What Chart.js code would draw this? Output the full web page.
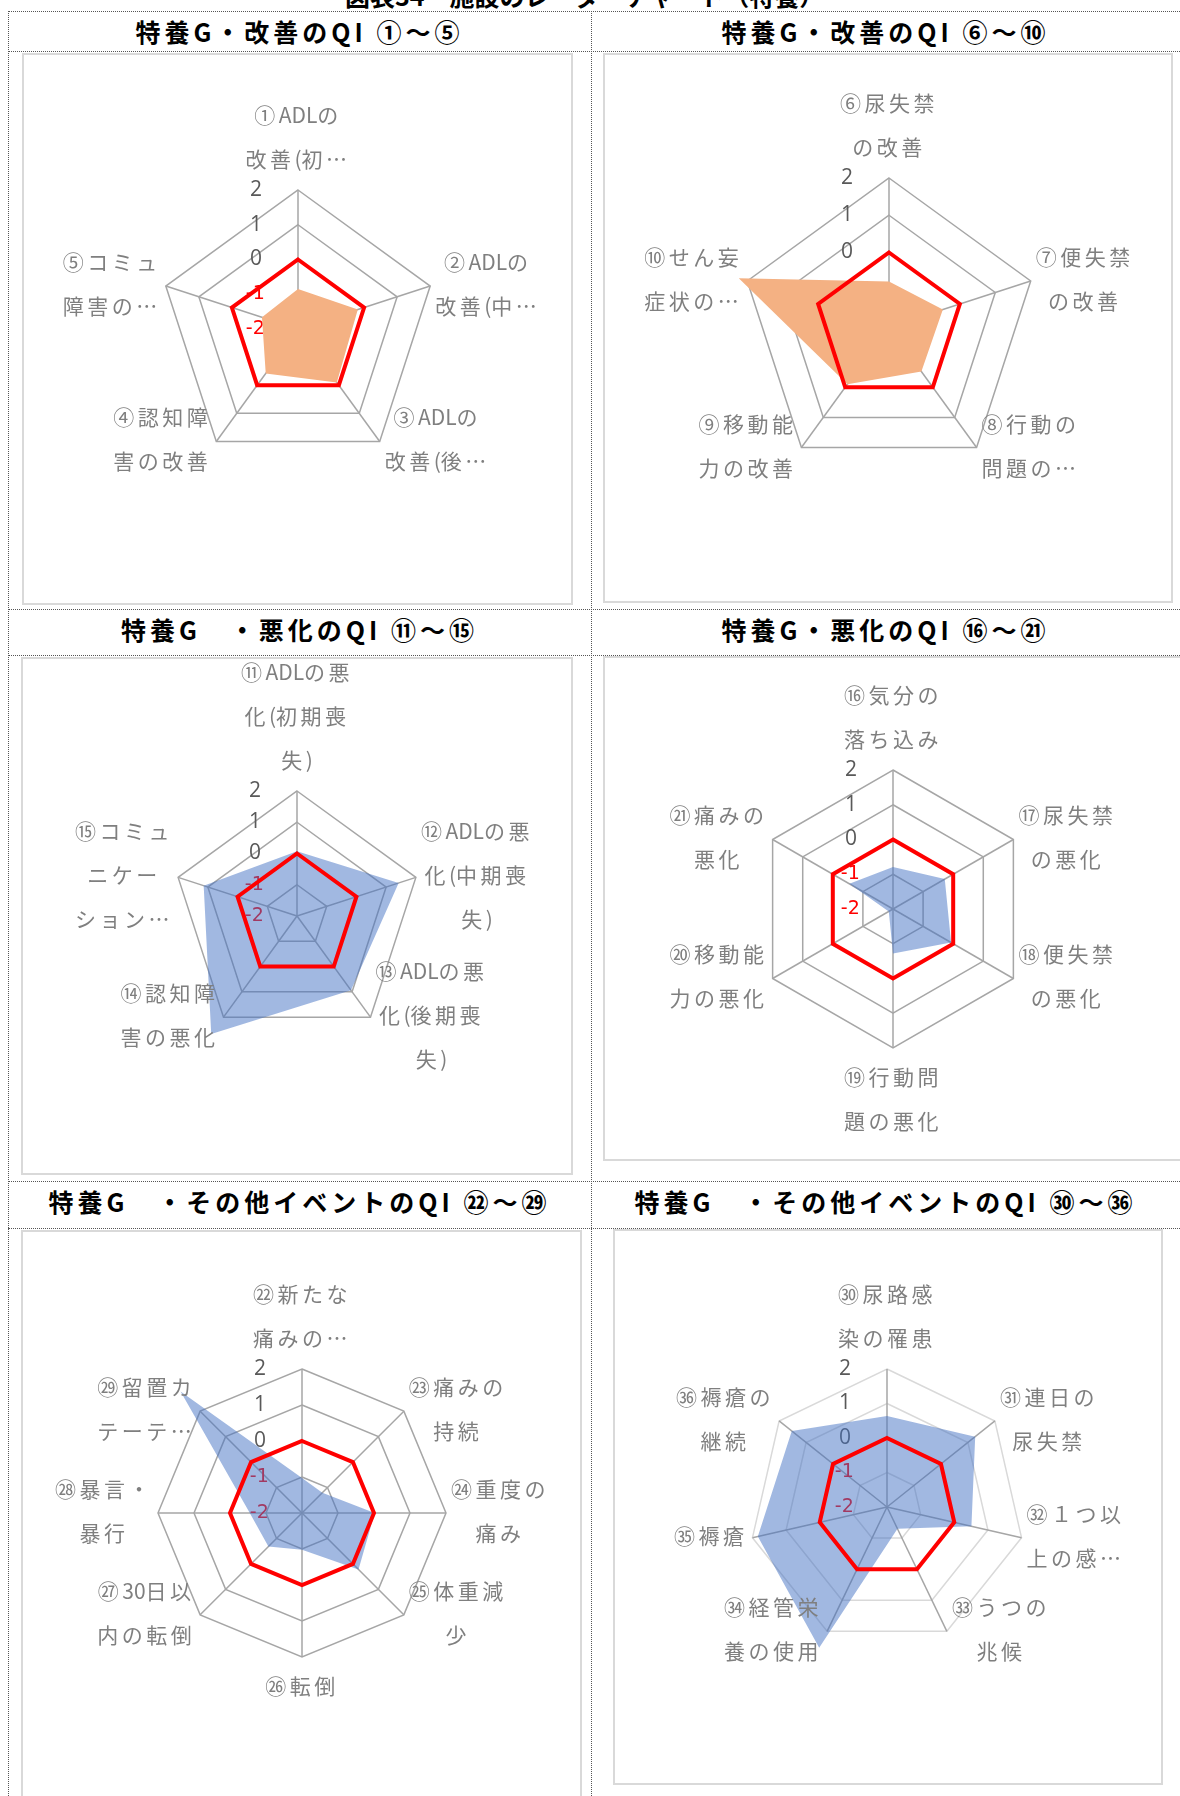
<!DOCTYPE html>
<html lang="ja">
<head>
<meta charset="utf-8">
<title>施設のレーダーチャート</title>
<script src="https://cdn.jsdelivr.net/npm/chart.js@4.4.1/dist/chart.umd.min.js"></script>
<style>
  html, body { margin: 0; padding: 0; background: #fff; }
  body {
    width: 1180px; height: 1796px; position: relative; overflow: hidden;
    font-family: "Noto Sans CJK JP", sans-serif;
  }
  .doc-title {
    position: absolute; top: -17px; left: 345px; width: 470px; text-align: center;
    font-size: 25px; line-height: 1; font-weight: 700; color: #000; white-space: nowrap;
  }
  .hline { position: absolute; left: 8px; width: 1172px; height: 0; border-top: 1px dotted #555; }
  .vline { position: absolute; top: 11px; height: 1785px; width: 0; border-left: 1px dotted #555; }
  .cell-title {
    position: absolute; text-align: center; white-space: nowrap;
    font-size: 25px; line-height: 1; font-weight: 700; letter-spacing: 4px; color: #000;
  }
  .panel { position: absolute; box-sizing: border-box; border: 2px solid #d9d9d9; background: #fff; }
  canvas.radar { position: absolute; }
</style>
</head>
<body>
<div class="doc-title">図表34　施設のレーダーチャート（特養）</div>
<div id="sheet"></div>

<script>
(function () {
  // ---- data -------------------------------------------------------------
  const tickValues = [-2, -1, 0, 1, 2];

  const catsImproveA = [["①ADLの", "改善(初…"], ["②ADLの", "改善(中…"], ["③ADLの", "改善(後…"], ["④認知障", "害の改善"], ["⑤コミュ", "障害の…"]];
  const facilityImproveA = [-0.85, -0.19, -0.10, -0.42, -0.91];
  const averageImproveA = [0, 0, 0, 0, 0];

  const catsImproveB = [["⑥尿失禁", "の改善"], ["⑦便失禁", "の改善"], ["⑧行動の", "問題の…"], ["⑨移動能", "力の改善"], ["⑩せん妄", "症状の…"]];
  const facilityImproveB = [-0.78, -0.48, -0.52, -0.10, 2.24];
  const averageImproveB = [0, 0, 0, 0, 0];

  const catsWorseA = [["⑪ADLの悪", "化(初期喪", "失)"], ["⑫ADLの悪", "化(中期喪", "失)"], ["⑬ADLの悪", "化(後期喪", "失)"], ["⑭認知障", "害の悪化"], ["⑮コミュ", "ニケー", "ション…"]];
  const facilityWorseA = [0.07, 1.42, 0.94, 2.67, 1.14];
  const averageWorseA = [0, 0, 0, 0, 0];

  const catsWorseB = [["⑯気分の", "落ち込み"], ["⑰尿失禁", "の悪化"], ["⑱便失禁", "の悪化"], ["⑲行動問", "題の悪化"], ["⑳移動能", "力の悪化"], ["㉑痛みの", "悪化"]];
  const facilityWorseB = [-0.79, -0.28, -0.07, -0.72, -1.86, -0.55];
  const averageWorseB = [0, 0, 0, 0, 0, 0];

  const catsEventA = [["㉒新たな", "痛みの…"], ["㉓痛みの", "持続"], ["㉔重度の", "痛み"], ["㉕体重減", "少"], ["㉖転倒"], ["㉗30日以", "内の転倒"], ["㉘暴言・", "暴行"], ["㉙留置カ", "テーテ…"]];
  const facilityEventA = [-1.03, -1.2, 0.02, 0.22, -0.98, -0.68, -0.55, 2.77];
  const averageEventA = [0, 0, 0, 0, 0, 0, 0, 0];

  const catsEventB = [["㉚尿路感", "染の罹患"], ["㉛連日の", "尿失禁"], ["㉜１つ以", "上の感…"], ["㉝うつの", "兆候"], ["㉞経管栄", "養の使用"], ["㉟褥瘡"], ["㊱褥瘡の", "継続"]];
  const facilityEventB = [0.64, 1.27, 0.51, -1.3, 2.53, 1.84, 1.53];
  const averageEventB = [0, 0, 0, 0, 0, 0, 0];

  const titles = [
    "特養G・改善のQI ①～⑤",
    "特養G・改善のQI ⑥～⑩",
    "特養G　・悪化のQI ⑪～⑮",
    "特養G・悪化のQI ⑯～㉑",
    "特養G　・その他イベントのQI ㉒～㉙",
    "特養G　・その他イベントのQI ㉚～㊱",
  ];

  // ---- styles -----------------------------------------------------------
  const ORANGE = "#f4b183";
  const BLUE = "rgba(68, 114, 196, 0.5)";
  const RED = "#ff0000";
  const GRID = "#a6a6a6";
  const GRID_LIGHT = "#d9d9d9";
  const LABEL_COLOR = "#7f7f7f";
  const LABEL_SIZE = 21;
  const LABEL_LINE = 44;
  const WIDE_SPACING = "3.5px";
  const TICK_SIZE = 21;
  const TICK_PAD = TICK_SIZE / 2;

  // panel boxes and plot centres (page pixels)
  const cells = [
    { cats: catsImproveA, fac: facilityImproveA, avg: averageImproveA, fill: ORANGE, ring: GRID, panel: [22, 53, 551, 552], c: [298, 329], r: 139, titleY: 19, col: 0 },
    { cats: catsImproveB, fac: facilityImproveB, avg: averageImproveB, fill: ORANGE, ring: GRID, panel: [603, 53, 570, 550], c: [889, 327], r: 149, titleY: 19, col: 1 },
    { cats: catsWorseA, fac: facilityWorseA, avg: averageWorseA, fill: BLUE, ring: GRID, panel: [21, 657, 552, 518], c: [297, 916], r: 125, titleY: 617, col: 0 },
    { cats: catsWorseB, fac: facilityWorseB, avg: averageWorseB, fill: BLUE, ring: GRID, panel: [603, 656, 579, 505], c: [893, 909], r: 139, titleY: 617, col: 1 },
    { cats: catsEventA, fac: facilityEventA, avg: averageEventA, fill: BLUE, ring: GRID, panel: [21, 1230, 561, 580], c: [302, 1513], r: 144, titleY: 1189, col: 0 },
    { cats: catsEventB, fac: facilityEventB, avg: averageEventB, fill: BLUE, ring: GRID_LIGHT, panel: [613, 1229, 550, 556], c: [887, 1507], r: 138, titleY: 1189, col: 1 },
  ];

  const sheet = document.getElementById("sheet");

  [11, 51, 609, 655, 1181, 1228].forEach(function (y) {
    const d = document.createElement("div");
    d.className = "hline";
    d.style.top = y + "px";
    sheet.appendChild(d);
  });
  [8, 591].forEach(function (x) {
    const d = document.createElement("div");
    d.className = "vline";
    d.style.left = x + "px";
    sheet.appendChild(d);
  });

  // full-width text is spaced out like the Excel labels, ASCII is not
  function textRuns(text) {
    return text.match(/[\x20-\x7e]+|[^\x20-\x7e]+/g) || [];
  }
  function setSpacing(ctx, run) {
    ctx.letterSpacing = /^[\x20-\x7e]/.test(run) ? "0px" : WIDE_SPACING;
  }
  function runWidth(ctx, text) {
    let w = 0;
    textRuns(text).forEach(function (r) {
      setSpacing(ctx, r);
      w += ctx.measureText(r).width;
    });
    return w;
  }
  function drawCentred(ctx, text, cx, y) {
    let x = cx - runWidth(ctx, text) / 2;
    textRuns(text).forEach(function (r) {
      setSpacing(ctx, r);
      ctx.fillText(r, x, y);
      x += ctx.measureText(r).width;
    });
  }

  // Excel-like category labels: centred blocks beside each outer vertex
  const excelLabels = {
    id: "excelLabels",
    afterDraw(chart) {
      const scale = chart.scales.r;
      const ctx = chart.ctx;
      ctx.save();
      ctx.font = LABEL_SIZE + 'px "Noto Sans CJK JP"';
      ctx.fillStyle = LABEL_COLOR;
      ctx.textAlign = "left";
      ctx.textBaseline = "middle";
      chart.data.labels.forEach(function (lines, i) {
        const p = scale.getPointPosition(i, scale.drawingArea);
        const deg = scale.getIndexAngle(i) * 180 / Math.PI;
        const w = Math.max.apply(null, lines.map(function (t) { return runWidth(ctx, t); }));
        const n = lines.length;
        let x, y0;
        if (deg < 1 || deg > 359) {
          x = p.x;
          y0 = p.y - 31 - (n - 1) * LABEL_LINE;
        } else if (Math.abs(deg - 180) < 1) {
          x = p.x;
          y0 = p.y + 29;
        } else if (deg < 180) {
          x = p.x + 5 + w / 2;
          y0 = p.y - 2 - (n - 1) * LABEL_LINE / 2;
        } else {
          x = p.x - 5 - w / 2;
          y0 = p.y - 2 - (n - 1) * LABEL_LINE / 2;
        }
        lines.forEach(function (t, k) {
          drawCentred(ctx, t, x, y0 + k * LABEL_LINE);
        });
      });
      ctx.restore();
    },
  };

  cells.forEach(function (cell, idx) {
    const colLeft = cell.col === 0 ? 8 : 591;
    const colRight = cell.col === 0 ? 591 : 1180;

    const t = document.createElement("div");
    t.className = "cell-title";
    t.textContent = titles[idx];
    t.style.left = colLeft + "px";
    t.style.width = (colRight - colLeft) + "px";
    t.style.top = cell.titleY + "px";
    sheet.appendChild(t);

    const [px, py, pw, ph] = cell.panel;
    const box = document.createElement("div");
    box.className = "panel";
    box.style.left = px + "px";
    box.style.top = py + "px";
    box.style.width = pw + "px";
    box.style.height = ph + "px";
    sheet.appendChild(box);

    const canvas = document.createElement("canvas");
    canvas.className = "radar";
    canvas.width = pw;
    canvas.height = ph;
    canvas.style.left = px + "px";
    canvas.style.top = py + "px";
    sheet.appendChild(canvas);

    const side = 2 * cell.r + 2 * TICK_PAD;
    const padLeft = cell.c[0] - px - cell.r - TICK_PAD;
    const padTop = cell.c[1] - py - cell.r - TICK_PAD;
    const opaque = cell.fill === ORANGE;

    new Chart(canvas, {
      type: "radar",
      data: {
        labels: cell.cats,
        datasets: [
          {
            label: "平均",
            data: cell.avg,
            borderColor: RED,
            borderWidth: 4,
            borderJoinStyle: "miter",
            backgroundColor: "transparent",
            fill: false,
            pointRadius: 0,
            clip: false,
            order: 0,
          },
          {
            label: "施設",
            data: cell.fac,
            borderWidth: 0,
            borderColor: "transparent",
            backgroundColor: cell.fill,
            fill: "start",
            pointRadius: 0,
            clip: false,
            order: 1,
          },
        ],
      },
      options: {
        responsive: false,
        animation: false,
        devicePixelRatio: 1,
        layout: {
          padding: {
            left: padLeft,
            top: padTop,
            right: pw - padLeft - side,
            bottom: ph - padTop - side,
          },
        },
        plugins: { legend: { display: false }, tooltip: { enabled: false } },
        scales: {
          r: {
            z: opaque ? 1 : 0,
            min: tickValues[0],
            max: tickValues[tickValues.length - 1],
            ticks: {
              stepSize: 1,
              showLabelBackdrop: false,
              backdropPadding: 0,
              color: function (c) { return c.tick && c.tick.value < 0 ? RED : "#595959"; },
              font: function (c) {
                if (c.tick && c.tick.value < 0) {
                  return { family: "'DejaVu Sans', sans-serif", size: 19 };
                }
                return { family: "'Open Sans', sans-serif", size: TICK_SIZE };
              },
              callback: function (v) {
                return v < 0 ? v + "\u2003\u2003\u2003\u2003\u2002" : v + "\u2003\u2003\u2003\u2003";
              },
            },
            grid: {
              lineWidth: 1.5,
              color: function (c) {
                const v = c.tick ? c.tick.value : 2;
                if (opaque && v <= 0) return "rgba(0,0,0,0)";
                return cell.ring;
              },
            },
            angleLines: { color: GRID, lineWidth: 1.5 },
            pointLabels: { display: false },
          },
        },
      },
      plugins: [excelLabels],
    });
  });
})();
</script>
</body>
</html>
